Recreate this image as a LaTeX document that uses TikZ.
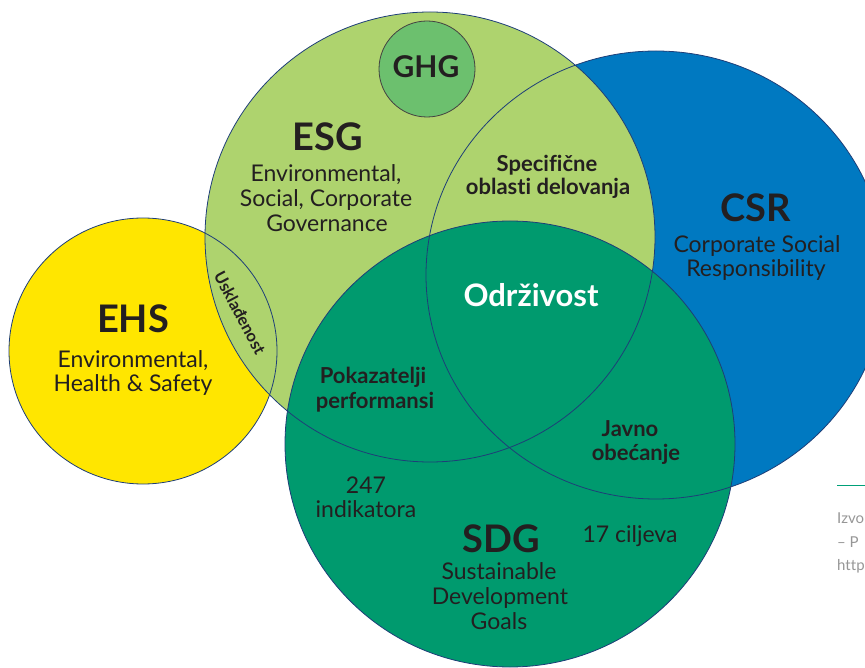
\documentclass[tikz,border=0pt]{standalone}
\usepackage{fontspec}
\setmainfont{Lato}[Ligatures={NoCommon}]
\definecolor{esgc}{RGB}{174,211,110}
\definecolor{csrc}{RGB}{0,121,193}
\definecolor{sdgc}{RGB}{0,154,110}
\definecolor{ehsc}{RGB}{255,230,0}
\definecolor{ghgc}{RGB}{108,192,110}
\definecolor{linec}{RGB}{30,62,120}
\definecolor{txt}{RGB}{35,31,32}
\definecolor{srcgray}{RGB}{150,150,150}
\definecolor{srcline}{RGB}{0,160,120}
\tikzset{
  head/.style={anchor=base, text=txt, inner sep=0pt, font=\bfseries\fontsize{38}{40}\selectfont},
  subt/.style={anchor=base, text=txt, inner sep=0pt, font=\fontsize{23}{26}\selectfont},
  midb/.style={anchor=base, text=txt, inner sep=0pt, font=\bfseries\fontsize{22}{24}\selectfont},
  srct/.style={anchor=base west, text=srcgray, inner sep=0pt, font=\fontsize{15}{18}\selectfont},
  outl/.style={draw=linec, line width=0.8pt}
}
\begin{document}
\begin{tikzpicture}[x=1pt,y=-1pt]
\useasboundingbox (0,0) rectangle (865,668);
\begin{scope}
\clip (0,0) rectangle (865,668);
% fills
\fill[ehsc] (143,351) ellipse [x radius=134, y radius=133];
\fill[csrc] (656,275) ellipse [x radius=230, y radius=224];
\fill[esgc] (430,237) ellipse [x radius=225, y radius=225];
\fill[sdgc] (510,444) ellipse [x radius=225, y radius=223];
\fill[ghgc] (427,69) circle [radius=48];
% outlines
\draw[outl] (143,351) ellipse [x radius=134, y radius=133];
\draw[outl] (656,275) ellipse [x radius=230, y radius=224];
\draw[outl] (430,237) ellipse [x radius=225, y radius=225];
\draw[outl] (510,444) ellipse [x radius=225, y radius=223];
\draw[draw=txt!85, line width=0.8pt] (427,69) circle [radius=48];
% source line and text
\coordinate (srcA) at (837,485);
\coordinate (srcB) at (866,485);
\draw[srcline, line width=1pt] (srcA) -- (srcB);
\node[srct] (src1) at (837,523) {Izvo};
\node[srct] (src2) at (837,547) {– P};
\node[srct] (src3) at (837,570) {http};
\end{scope}
% texts
\node[head, font=\bfseries\fontsize{30}{32}\selectfont] (ghg) at (426,78) {GHG};
\node[head] (esg) at (328,151) {ESG};
\node[subt] (esg1) at (326,182) {Environmental,};
\node[subt] (esg2) at (326,207) {Social, Corporate};
\node[subt] (esg3) at (327,232) {Governance};
\node[head] (csr) at (756,222) {CSR};
\node[subt] (csr1) at (757,253) {Corporate Social};
\node[subt] (csr2) at (756,277) {Responsibility};
\node[head] (ehs) at (133,333) {EHS};
\node[subt] (ehs1) at (133,367) {Environmental,};
\node[subt] (ehs2) at (133,391) {Health \& Safety};
\node[midb] (spec1) at (547,172) {Specifične};
\node[midb] (spec2) at (548,195) {oblasti delovanja};
\node[head, text=white, font=\bfseries\fontsize{31}{33}\selectfont] (odr) at (531,307) {Održivost};
\node[midb] (pok1) at (373,383) {Pokazatelji};
\node[midb] (pok2) at (375,408) {performansi};
\node[midb] (jav1) at (630,436) {Javno};
\node[midb] (jav2) at (636,460) {obećanje};
\node[subt] (ind1) at (366,493) {247};
\node[subt] (ind2) at (366,517) {indikatora};
\node[head] (sdg) at (501,552) {SDG};
\node[subt] (sdg1) at (499,579) {Sustainable};
\node[subt] (sdg2) at (500,604) {Development};
\node[subt] (sdg3) at (499,629) {Goals};
\node[subt] (cilj) at (630,542) {17 ciljeva};
\node[text=txt, inner sep=0pt, rotate=-62, font=\bfseries\fontsize{16.5}{18}\selectfont] (usk) at (240,313) {Usklađenost};
\end{tikzpicture}
\end{document}
